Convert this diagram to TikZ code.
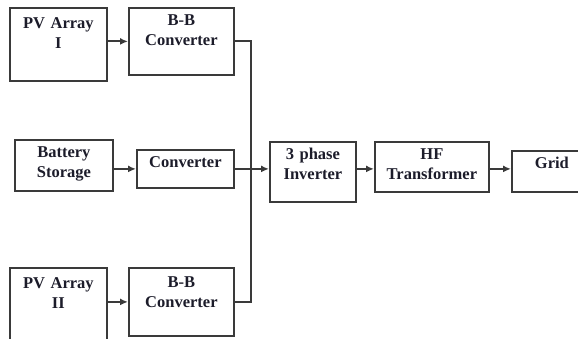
\documentclass[tikz,border=0pt]{standalone}
\usepackage{fontspec}
\setmainfont{Liberation Serif}
\usepackage{tikz}
\usetikzlibrary{arrows.meta,positioning,calc}
\definecolor{blkEdge}{HTML}{3A3A3A}
\definecolor{blkText}{HTML}{1C1C2A}

\begin{document}
\begin{tikzpicture}[x=1pt,y=1pt,
    blk/.style={draw=blkEdge,line width=1.8pt,anchor=north west,align=center,
                text=blkText,font=\fontsize{16.5}{19.5}\selectfont\bfseries,
                inner xsep=0pt,inner ysep=7pt,text height=11pt},
    wire/.style={draw=blkEdge,line width=1.8pt},
    feed/.style={wire,-{Latex[length=8pt,width=7pt]}}]
  \useasboundingbox (0,0) rectangle (578,-339);
  \node[blk,text width=97pt,text height=14pt,text depth=45pt]  (pv1)  at (9,-7)    {PV Array\\I};
  \node[blk,text width=105pt,text depth=42pt] (bb1)  at (128,-7)  {B-B\\Converter};
  \node[blk,text width=98pt,text depth=26pt]  (bat)  at (14,-139) {Battery\\Storage};
  \node[blk,text width=97pt,text depth=13pt]  (cnv)  at (136,-149) {Converter};
  \node[blk,text width=86pt,text depth=35pt]  (inv)  at (269,-141) {3 phase\\Inverter};
  \node[blk,text width=114pt,text depth=25pt] (hf)   at (374,-141) {HF\\Transformer};
  \node[blk,text width=80pt,text depth=16pt]  (grid) at (511,-150) {Grid};
  \node[blk,text width=97pt,text height=14pt,text depth=62pt]  (pv2)  at (9,-267)  {PV Array\\II};
  \node[blk,text width=105pt,text height=13pt,text depth=41pt] (bb2)  at (128,-267) {B-B\\Converter};
  \coordinate (bus) at (251,0);

  \draw[feed] (pv1.east |- bb1.west) -- (bb1.west);
  \draw[feed] (pv2.east |- bb2.west) -- (bb2.west);
  \draw[feed] (bat.east |- cnv.west) -- (cnv.west);
  \draw[wire] (bb1.east) -- (bb1.east -| bus) -- (bb2.east -| bus) -- (bb2.east);
  \draw[feed] (cnv.east) -- (inv.west |- cnv.east);
  \draw[feed] (inv.east |- cnv.east) -- (hf.west |- cnv.east);
  \draw[feed] (hf.east |- cnv.east) -- (grid.west |- cnv.east);
\end{tikzpicture}
\end{document}
